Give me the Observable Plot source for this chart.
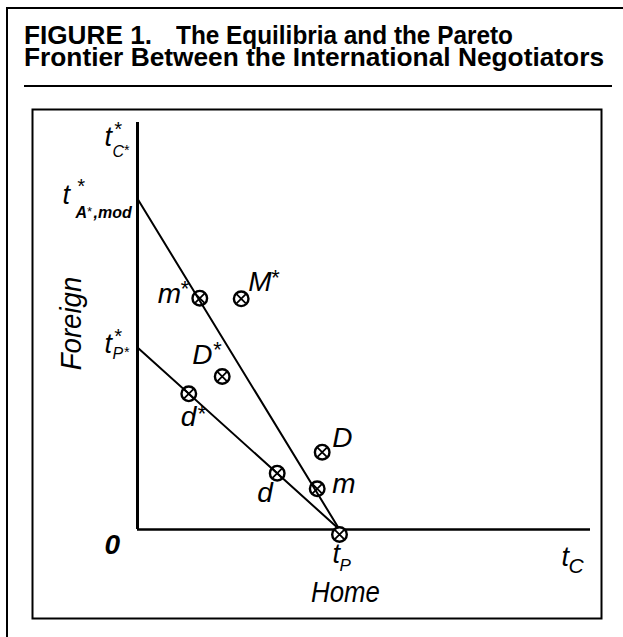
<!DOCTYPE html>
<html><head><meta charset="utf-8">
<script src="https://cdn.jsdelivr.net/npm/d3@7"></script>
<script src="https://cdn.jsdelivr.net/npm/@observablehq/plot@0.6"></script>
<style>
html,body{margin:0;padding:0;background:#fff;}
#wrap{position:relative;width:623px;height:637px;overflow:hidden;background:#fff;}
.rule{position:absolute;background:#000;}
.title{position:absolute;font-family:"Liberation Sans",Arial,Helvetica,sans-serif;font-weight:bold;font-size:25px;line-height:18px;height:18px;white-space:nowrap;transform-origin:0 0;color:#000;}
#chart{position:absolute;left:0;top:0;}
</style></head><body>
<div id="wrap">
  <div class="rule" style="left:6px;top:7px;width:617px;height:2px"></div>
  <div class="rule" style="left:6px;top:7px;width:2px;height:630px"></div>
  <div class="title" id="t1a" style="left:24px;top:26px">FIGURE 1.</div>
  <div class="title" id="t1b" style="left:176px;top:26px">The Equilibria and the Pareto</div>
  <div class="title" id="t2" style="left:24px;top:48px">Frontier Between the International Negotiators</div>
  <div class="rule" style="left:24px;top:85px;width:588px;height:2px"></div>
  <div id="chart"></div>
</div>
<script>
// ---- data (abstract units: axes run 0..100) ----
const pointNames = ["m*", "M*", "D*", "d*", "d", "m", "D", "tP"];
const pointX = [13.75, 22.89, 18.70, 11.32, 30.84, 39.67, 40.77, 44.59];
const pointY = [56.83, 56.68, 37.59, 33.34, 13.83, 10.0, 18.99, 0];

const frontierNames = ["tA*,mod to tP", "tP* to tP"];
const frontierStartY = [81.25, 44.72];
const tPx = 44.59;

const xAxisMax = 100;
const yAxisMax = 100;
const yTickValues = [100, 81.25, 44.72, 0];
const yTickLabels = ["t*C*", "t*A*,mod", "t*P*", "0"];
const xTickValues = [44.59, 100];
const xTickLabels = ["tP", "tC"];
const xAxisTitle = "Home";
const yAxisTitle = "Foreign";

// ---- tables ----
const points = pointNames.map((name, i) => ({name, x: pointX[i], y: pointY[i]}));
const frontier = frontierNames.flatMap((f, i) => [
  {frontier: f, x: 0, y: frontierStartY[i]},
  {frontier: f, x: tPx, y: 0}
]);
const yTicks = yTickValues.map((v, i) => ({value: v, label: yTickLabels[i]}));
const xTicks = xTickValues.map((v, i) => ({value: v, label: xTickLabels[i]}));

const font = "'Liberation Sans',Arial,Helvetica,sans-serif";

const plot = Plot.plot({
  width: 623, height: 637,
  marginLeft: 32, marginRight: 22, marginTop: 109, marginBottom: 19,
  x: {domain: [0, xAxisMax], range: [137, 590], axis: null},
  y: {domain: [0, yAxisMax], range: [529, 122], axis: null},
  style: {background: "transparent", overflow: "visible", fontFamily: font, color: "#000"},
  marks: [
    Plot.frame({stroke: "#000", strokeWidth: 2}),
    Plot.ruleX([0], {y1: 0, y2: yAxisMax, stroke: "#000", strokeWidth: 3}),
    Plot.ruleY([0], {x1: 0, x2: xAxisMax, stroke: "#000", strokeWidth: 2.5}),
    Plot.line(frontier, {x: "x", y: "y", z: "frontier", stroke: "#000", strokeWidth: 2}),
    Plot.dot(points, {x: "x", y: "y", filter: d => d.y > 0, r: 7.3, stroke: "#000", strokeWidth: 2.4, fill: "none"}),
    Plot.dot(points, {x: "x", y: "y", filter: d => d.y > 0, r: 4.3, symbol: "times", stroke: "#000", strokeWidth: 1.8}),
    Plot.dot(points, {x: "x", y: "y", filter: d => d.y === 0, dy: 5, r: 7.3, stroke: "#000", strokeWidth: 2.4, fill: "#fff"}),
    Plot.dot(points, {x: "x", y: "y", filter: d => d.y === 0, dy: 5, r: 4.3, symbol: "times", stroke: "#000", strokeWidth: 1.8}),
    Plot.text(points, {x: "x", y: "y", filter: d => d.y > 0, text: "name", fontSize: 28, fontStyle: "italic", textAnchor: "start", lineAnchor: "bottom", fill: "#000"}),
    Plot.text(yTicks, {x: 0, y: "value", text: "label", fontSize: 27, fontStyle: "italic", textAnchor: "start", lineAnchor: "bottom", fill: "#000"}),
    Plot.text(xTicks, {x: "value", y: 0, text: "label", fontSize: 27, fontStyle: "italic", textAnchor: "start", lineAnchor: "bottom", fill: "#000"}),
    Plot.text([xAxisTitle], {x: tPx, y: 0, text: d => d, dx: 6, dy: 72, fontSize: 30, fontStyle: "italic", textAnchor: "middle", lineAnchor: "bottom", fill: "#000"}),
    Plot.text([yAxisTitle], {x: 0, y: 50, text: d => d, dx: -57, dy: -2.5, rotate: -90, fontSize: 30, fontStyle: "italic", textAnchor: "middle", lineAnchor: "bottom", fill: "#000"})
  ]
});

// rich label typesetting: [string, dx, baseline dy, fontSize, fontWeight]
const rich = {
  "m*": [["m", -42, 5], ["*", -20, -2, 22]],
  "M*": [["M", 7, -8], ["*", 29, -14, 22]],
  "D*": [["D", -30, -13], ["*", -10, -20, 22]],
  "d*": [["d", -8, 32], ["*", 8, 27, 22]],
  "d": [["d", -20, 29]],
  "m": [["m", 15, 4]],
  "D": [["D", 10, -5]],
  "t*C*": [["t", -33, 23], ["*", -24, 13, 20], ["C", -25, 34, 16], ["*", -14, 32, 14]],
  "t*A*,mod": [["t", -75, 5], ["*", -61, -6, 20], ["A", -62, 19, 16, "bold"], ["*", -51, 17, 13], [",mod", -44, 19, 16, "bold"]],
  "t*P*": [["t", -33, 6], ["*", -24, -4, 20], ["P", -25, 12, 16], ["*", -14, 10, 14]],
  "0": [["0", -33, 24, 28, "bold"]],
  "tP": [["t", -7, 33], ["P", 0, 41, 17]],
  "tC": [["t", -29, 36], ["C", -22, 43, 21]]
};
const condensed = {"Home": 0.86, "Foreign": 0.92};
d3.select(plot).selectAll("text").each(function() {
  const key = this.textContent;
  if (condensed[key]) {
    const tr = this.getAttribute("transform") || "";
    this.setAttribute("transform", tr + ` scale(${condensed[key]},1)`);
    return;
  }
  const spec = rich[key];
  if (!spec) return;
  const el = d3.select(this);
  el.text(null);
  for (const [s, dx, dy, size, weight] of spec) {
    const t = el.append("tspan").attr("x", dx).attr("y", dy).text(s);
    if (size) t.attr("font-size", size);
    if (weight) t.attr("font-weight", weight);
  }
});

document.getElementById("chart").appendChild(plot);

// fit title segments to the reference widths
function fit(id, target) {
  const el = document.getElementById(id);
  const w = el.getBoundingClientRect().width;
  el.style.transform = `scaleX(${target / w})`;
}
fit("t1a", 128);
fit("t1b", 337);
fit("t2", 580);
</script>
</body></html>
